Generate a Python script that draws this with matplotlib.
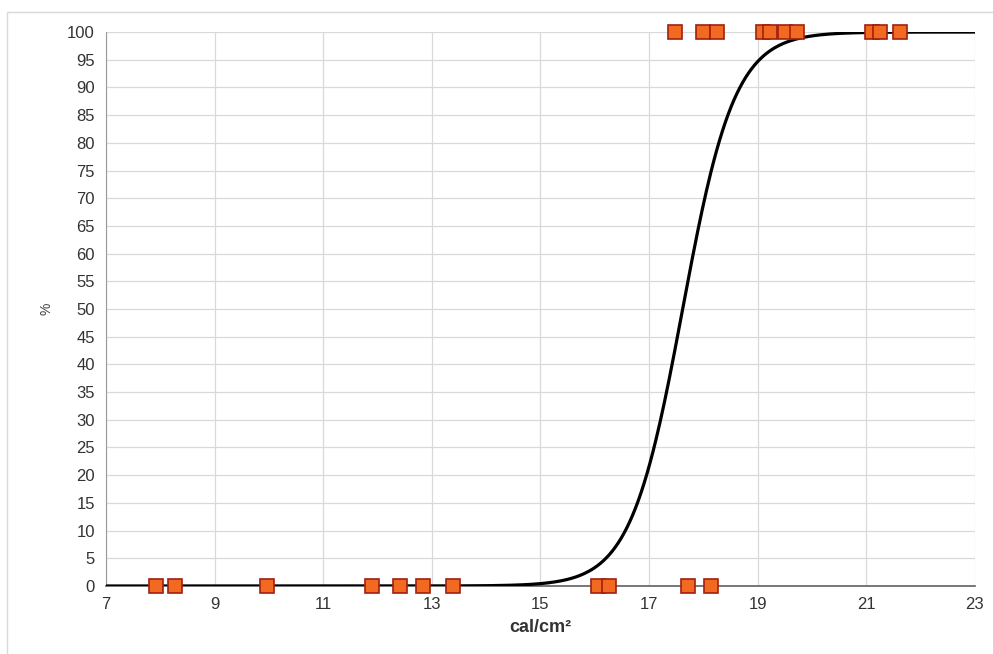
import numpy as np
import matplotlib.pyplot as plt
from matplotlib.lines import Line2D

plt.rcParams['font.family'] = ['Liberation Sans', 'DejaVu Sans']

# Test results: incident energy (cal/cm2) and response (%)
x_burn = [17.48, 17.99, 18.25, 19.10, 19.23, 19.50, 19.72, 21.10, 21.25, 21.62]
y_burn = [100] * len(x_burn)
x_noburn = [7.93, 8.27, 9.96, 11.89, 12.41, 12.84, 13.39, 16.07, 16.27, 17.71, 18.15]
y_noburn = [0] * len(x_noburn)

# Fitted logistic curve parameters
mu = 17.62
scale = 0.48

xticks = [7, 9, 11, 13, 15, 17, 19, 21, 23]
yticks = list(range(0, 101, 5))

fig = plt.figure(figsize=(9.93, 6.54), dpi=100)
ax = fig.add_axes([0.1067, 0.104, 0.875, 0.847])

# outer chart border (only left and top edges visible)
fig.lines.append(Line2D([0.007, 0.007, 1.0], [0.0, 0.982, 0.982], transform=fig.transFigure,
                        color='#d9d9d9', linewidth=1))

xs = np.linspace(7, 23, 600)
ys = 100 / (1 + np.exp(-(xs - mu) / scale))
ax.plot(xs, ys, color='black', linewidth=2.3, zorder=3)

mk = dict(marker='s', linestyle='none', markersize=9.5, markerfacecolor='#f26a21',
          markeredgecolor='#a02010', markeredgewidth=1.2, clip_on=False, zorder=4)
ax.plot(x_burn, y_burn, **mk)
ax.plot(x_noburn, y_noburn, **mk)

ax.set_xlim(7, 23)
ax.set_ylim(0, 100)
ax.set_xticks(xticks)
ax.set_yticks(yticks)
ax.tick_params(length=0, labelsize=12, colors='#333333', pad=8)
ax.grid(True, color='#d9d9d9', linewidth=0.9)
ax.set_axisbelow(True)
for s in ['top', 'right']:
    ax.spines[s].set_visible(False)
ax.spines['left'].set_color('#999999')
ax.spines['bottom'].set_color('#606060')
ax.spines['bottom'].set_linewidth(1.2)

ax.set_xlabel('cal/cm²', fontsize=13, fontweight='bold', color='#333333', labelpad=5)
ax.set_ylabel('%', fontsize=10, color='#404040', labelpad=10)

fig.savefig('out.png', dpi=100)
